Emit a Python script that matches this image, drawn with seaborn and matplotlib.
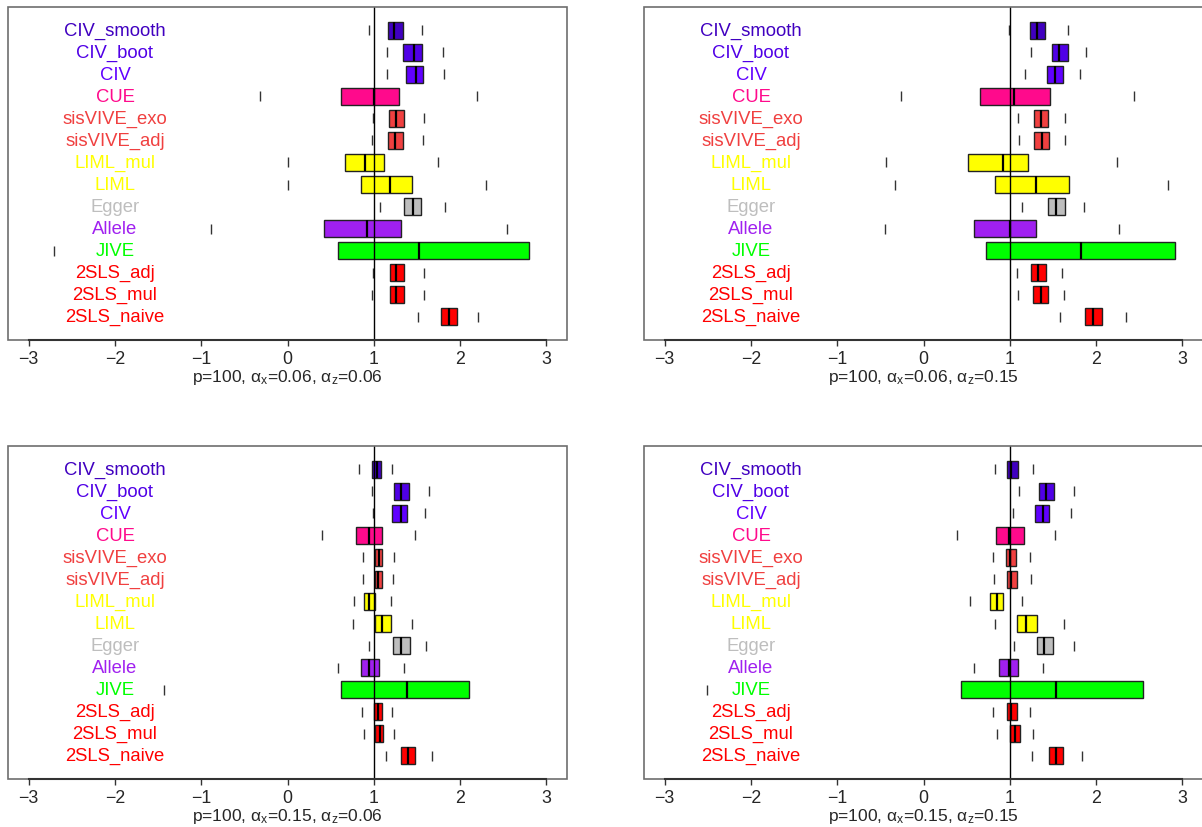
import numpy as np
import pandas as pd
import matplotlib
matplotlib.use("Agg")
import matplotlib.pyplot as plt
from matplotlib.patches import Rectangle
import seaborn as sns

# Methods, from top row to bottom row
methods = ["CIV_smooth", "CIV_boot", "CIV", "CUE", "sisVIVE_exo", "sisVIVE_adj",
           "LIML_mul", "LIML", "Egger", "Allele", "JIVE", "2SLS_adj", "2SLS_mul", "2SLS_naive"]
method_colors = ["#4000C0", "#5000E6", "#6000FF", "#FF0A8C", "#F04040", "#F04040",
                 "#FFFF00", "#FFFF00", "#BEBEBE", "#A020F0", "#00FF00", "#FF0000", "#FF0000", "#FF0000"]

# panel 1: p=100, ax=0.06, az=0.06
p1_low = [0.94, 1.15, 1.15, -0.32, 0.99, 0.98, 0.01, 0.00, 1.07, -0.89, -2.71, 0.99, 0.98, 1.51]
p1_q1 = [1.16, 1.34, 1.37, 0.62, 1.18, 1.17, 0.67, 0.85, 1.35, 0.42, 0.58, 1.19, 1.19, 1.78]
p1_med = [1.24, 1.47, 1.49, 1.00, 1.26, 1.25, 0.90, 1.19, 1.46, 0.92, 1.53, 1.26, 1.26, 1.87]
p1_q3 = [1.34, 1.56, 1.57, 1.29, 1.35, 1.34, 1.12, 1.44, 1.55, 1.32, 2.80, 1.35, 1.35, 1.97]
p1_high = [1.56, 1.80, 1.81, 2.20, 1.58, 1.57, 1.74, 2.30, 1.82, 2.54, np.nan, 1.58, 1.58, 2.21]

# panel 2: p=100, ax=0.06, az=0.15
p2_low = [0.99, 1.25, 1.18, -0.26, 1.10, 1.11, -0.43, -0.33, 1.14, -0.45, np.nan, 1.08, 1.09, 1.58]
p2_q1 = [1.24, 1.49, 1.43, 0.66, 1.28, 1.28, 0.52, 0.83, 1.44, 0.58, 0.73, 1.25, 1.27, 1.87]
p2_med = [1.32, 1.57, 1.52, 1.05, 1.36, 1.37, 0.92, 1.30, 1.54, 1.00, 1.82, 1.33, 1.36, 1.97]
p2_q3 = [1.41, 1.67, 1.62, 1.47, 1.44, 1.45, 1.21, 1.69, 1.64, 1.30, 2.92, 1.42, 1.44, 2.07]
p2_high = [1.67, 1.88, 1.81, 2.44, 1.64, 1.64, 2.24, 2.84, 1.86, 2.27, np.nan, 1.61, 1.63, 2.35]

# panel 3: p=100, ax=0.15, az=0.06
p3_low = [0.83, 0.98, 0.99, 0.40, 0.88, 0.87, 0.77, 0.76, 0.94, 0.58, -1.43, 0.86, 0.89, 1.14]
p3_q1 = [0.98, 1.24, 1.21, 0.79, 1.01, 1.01, 0.89, 1.01, 1.22, 0.85, 0.62, 1.00, 1.01, 1.32]
p3_med = [1.04, 1.32, 1.32, 0.95, 1.06, 1.05, 0.95, 1.10, 1.32, 0.95, 1.39, 1.05, 1.07, 1.40]
p3_q3 = [1.08, 1.41, 1.38, 1.09, 1.10, 1.10, 1.02, 1.20, 1.42, 1.06, 2.10, 1.09, 1.11, 1.48]
p3_high = [1.21, 1.64, 1.59, 1.48, 1.23, 1.22, 1.20, 1.44, 1.61, 1.35, np.nan, 1.21, 1.24, 1.68]

# panel 4: p=100, ax=0.15, az=0.15
p4_low = [0.83, 1.11, 1.04, 0.39, 0.81, 0.82, 0.54, 0.83, 1.05, 0.59, -2.51, 0.81, 0.85, 1.26]
p4_q1 = [0.97, 1.34, 1.29, 0.84, 0.96, 0.97, 0.77, 1.08, 1.31, 0.88, 0.43, 0.97, 1.00, 1.46]
p4_med = [1.02, 1.42, 1.38, 0.99, 1.00, 1.02, 0.85, 1.19, 1.40, 0.99, 1.54, 1.01, 1.06, 1.54]
p4_q3 = [1.09, 1.51, 1.46, 1.16, 1.07, 1.08, 0.92, 1.31, 1.50, 1.09, 2.55, 1.08, 1.12, 1.62]
p4_high = [1.27, 1.75, 1.71, 1.53, 1.23, 1.25, 1.14, 1.63, 1.74, 1.38, np.nan, 1.24, 1.27, 1.84]

panel_titles = [r"p=100, $\mathregular{\alpha_x}$=0.06, $\mathregular{\alpha_z}$=0.06",
                r"p=100, $\mathregular{\alpha_x}$=0.06, $\mathregular{\alpha_z}$=0.15",
                r"p=100, $\mathregular{\alpha_x}$=0.15, $\mathregular{\alpha_z}$=0.06",
                r"p=100, $\mathregular{\alpha_x}$=0.15, $\mathregular{\alpha_z}$=0.15"]
x_ticks = [-3, -2, -1, 0, 1, 2, 3]

sns.set_theme(style="white")
plt.rcParams['font.family'] = ['Liberation Sans', 'DejaVu Sans']
plt.rcParams['mathtext.fontset'] = 'custom'
plt.rcParams['mathtext.rm'] = 'Liberation Sans'
plt.rcParams['mathtext.it'] = 'Liberation Sans:italic'


def draw_panel(ax, low, q1, med, q3, high, title):
    pos = np.arange(1, len(methods) + 1)
    stats = [dict(med=m, q1=a, q3=b, whislo=a, whishi=b, fliers=[])
             for a, m, b in zip(q1, med, q3)]
    bp = ax.bxp(stats, positions=pos, widths=0.8, orientation="horizontal",
                patch_artist=True, showcaps=False, showfliers=False,
                boxprops=dict(edgecolor="#222222", linewidth=1),
                medianprops=dict(color="black", linewidth=1.6),
                whiskerprops=dict(linewidth=0))
    for patch, c in zip(bp["boxes"], method_colors):
        patch.set_facecolor(c)

    # whisker end marks
    ends = pd.DataFrame({"x": list(low) + list(high), "y": list(pos) + list(pos)})
    sns.scatterplot(data=ends, x="x", y="y", marker="|", s=55, color="#333333",
                    linewidth=1, ax=ax, legend=False)

    for y, name, c in zip(pos, methods, method_colors):
        ax.text(-2, y, name, color=c, ha="center", va="center", fontsize=13.3)

    ax.axvline(1, color="black", linewidth=1, zorder=5)
    ax.set_xlim(-3.24, 3.24)
    ax.set_ylim(15.06, -0.06)
    ax.set_yticks([])
    ax.set_ylabel("")
    ax.set_xticks(x_ticks)
    ax.set_xticklabels([f"{t}".replace("-", "\u2212") for t in x_ticks], fontsize=12.8)
    ax.tick_params(axis="x", bottom=True, length=4, width=1, color="#333333", pad=3)
    ax.set_xlabel(title, fontsize=12.5, labelpad=0)

    # grey frame, darker axis line from first to last tick
    for s in ["left", "right", "top"]:
        ax.spines[s].set_visible(False)
    ax.add_patch(Rectangle((0, 0), 1, 1, transform=ax.transAxes, fill=False,
                           edgecolor="#6e6e6e", linewidth=1.2, zorder=6, clip_on=False))
    ax.spines["bottom"].set_bounds(x_ticks[0], x_ticks[-1])
    ax.spines["bottom"].set_color("#333333")
    ax.spines["bottom"].set_linewidth(1.5)
    ax.spines["bottom"].set_zorder(7)
    ax.grid(False)


fig = plt.figure(figsize=(12.02, 8.28), dpi=100)
W, H = 1202, 828
rects = [(8, 8), (644, 8), (8, 447), (644, 447)]
data = [(p1_low, p1_q1, p1_med, p1_q3, p1_high),
        (p2_low, p2_q1, p2_med, p2_q3, p2_high),
        (p3_low, p3_q1, p3_med, p3_q3, p3_high),
        (p4_low, p4_q1, p4_med, p4_q3, p4_high)]
for (left, top), d, t in zip(rects, data, panel_titles):
    ax = fig.add_axes([left / W, 1 - (top + 333) / H, 559 / W, 333 / H])
    draw_panel(ax, *d, t)

fig.savefig("out.png", dpi=100)
